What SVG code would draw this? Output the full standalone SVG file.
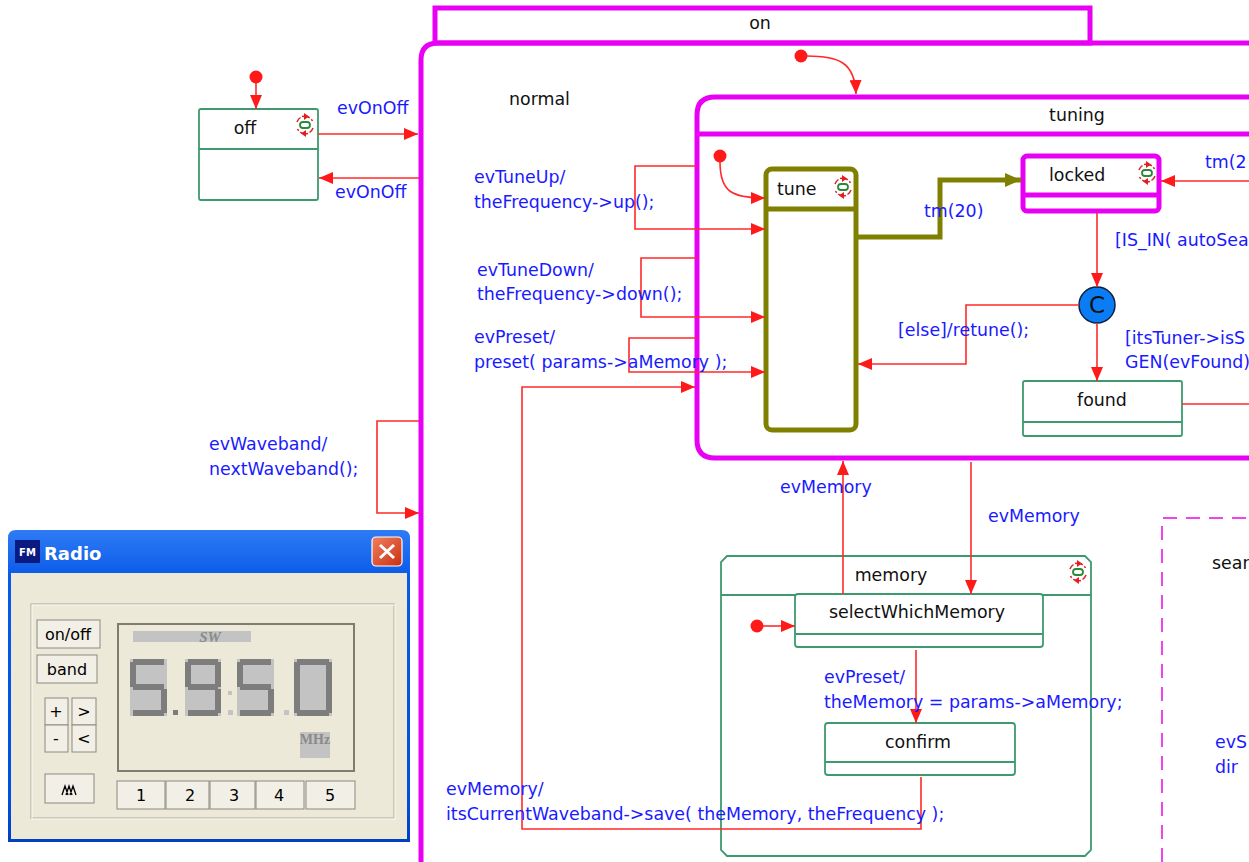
<svg xmlns="http://www.w3.org/2000/svg" width="1249" height="862" viewBox="0 0 1249 862">
  <style>
    .lbl { font-family: "DejaVu Sans", Verdana, sans-serif; font-size: 17.4px; fill: #1a1aff; }
    .name { font-family: "DejaVu Sans", Verdana, sans-serif; font-size: 17.4px; fill: #111; }
    .mid { text-anchor: middle; }
    .tr { fill: none; stroke: #ff2a2a; stroke-width: 1.6; }
    .st { fill: #fff; stroke: #3d9a6e; stroke-width: 1.8; }
    .stl { fill: none; stroke: #3d9a6e; stroke-width: 1.8; }
    .mg { fill: none; stroke: #e800f4; stroke-width: 5; }
    .ol { fill: none; stroke: #808000; stroke-width: 5; }
    .dot { fill: #ff1a1a; }
    .btn { fill: #f1efe6; stroke: #8c8a80; stroke-width: 1; }
    .btxt { font-family: "DejaVu Sans", Verdana, sans-serif; font-size: 16px; fill: #000; text-anchor: middle; }
    .seg { fill: #7d7d7d; }
    .cell { fill: #c3c3c3; }
  </style>
  <defs>
    <marker id="ah" viewBox="0 0 14 12" refX="14" refY="6" markerWidth="14" markerHeight="12" markerUnits="userSpaceOnUse" orient="auto">
      <path d="M0,0 L14,6 L0,12 Z" fill="#ff1a1a"/>
    </marker>
    <marker id="aho" viewBox="0 0 16 14" refX="16" refY="7" markerWidth="16" markerHeight="14" markerUnits="userSpaceOnUse" orient="auto">
      <path d="M0,0 L16,7 L0,14 Z" fill="#808000"/>
    </marker>
    <!-- reactive-state icon: dashed circular arrows round a small capsule -->
    <symbol id="ico" viewBox="-12 -12 24 24" overflow="visible">
      <path d="M-3,-8.5 A9,9 0 0 1 7.5,-4" fill="none" stroke="#e02020" stroke-width="1.5" stroke-dasharray="3,2"/>
      <path d="M3,8.5 A9,9 0 0 1 -7.5,4" fill="none" stroke="#e02020" stroke-width="1.5" stroke-dasharray="3,2"/>
      <path d="M-8,-3 A9,9 0 0 1 -4.5,-7.5" fill="none" stroke="#e02020" stroke-width="1.5"/>
      <path d="M8,3 A9,9 0 0 1 4.5,7.5" fill="none" stroke="#e02020" stroke-width="1.5"/>
      <path d="M-1,-12 L4,-8.5 L-1,-5 Z" fill="#e02020"/>
      <path d="M1,12 L-4,8.5 L1,5 Z" fill="#e02020"/>
      <rect x="-5" y="-3" width="10" height="6" rx="3" fill="none" stroke="#2a8a3a" stroke-width="1.8"/>
    </symbol>
  </defs>

  <rect width="1249" height="862" fill="#fff"/>

  <!-- on (composite, partly off-canvas) -->
  <g id="on">
    <rect x="435" y="8" width="655" height="35" class="mg"/>
    <text x="760" y="29" class="name mid">on</text>
    <path d="M421,870 L421,60 Q421,43 438,43 L1260,43" class="mg"/>
    <text x="509" y="105" class="name">normal</text>
  </g>

  <!-- tuning -->
  <g id="tuning">
    <path d="M1260,97 L715,97 Q697,97 697,115 L697,440 Q697,458 715,458 L1260,458" class="mg"/>
    <line x1="697" y1="134" x2="1260" y2="134" class="mg"/>
    <text x="1077" y="121" class="name mid">tuning</text>
  </g>

  <g id="tune">
    <rect x="766" y="169" width="90" height="261" rx="6" class="ol"/>
    <line x1="766" y1="209" x2="858" y2="209" class="ol"/>
    <text x="777" y="195" class="name">tune</text>
    <use href="#ico" x="831" y="175" width="24" height="24"/>
  </g>

  <g id="locked">
    <rect x="1023" y="156" width="136" height="55" rx="4" class="mg"/>
    <line x1="1023" y1="195" x2="1161" y2="195" class="mg"/>
    <text x="1049" y="181" class="name">locked</text>
    <use href="#ico" x="1135" y="161" width="24" height="24"/>
  </g>

  <g id="cond">
    <circle cx="1097" cy="305" r="18" fill="#0a7cf4" stroke="#102040" stroke-width="1.5"/>
    <text x="1097" y="313" font-family="DejaVu Sans, sans-serif" font-size="23" fill="#111" text-anchor="middle">C</text>
  </g>

  <g id="found">
    <rect x="1023" y="381" width="159" height="55" rx="2" class="st"/>
    <line x1="1023" y1="422" x2="1182" y2="422" class="stl"/>
    <text x="1102" y="406" class="name mid">found</text>
  </g>

  <g id="off">
    <rect x="199" y="109" width="119" height="91" rx="2" class="st"/>
    <line x1="199" y1="149" x2="318" y2="149" class="stl"/>
    <text x="245" y="134" class="name mid">off</text>
    <use href="#ico" x="293" y="113" width="24" height="24"/>
  </g>

  <g id="memory">
    <path d="M727,556 L1085,556 L1091,562 L1091,850 L1085,856 L727,856 L721,850 L721,562 Z" class="stl"/>
    <line x1="721" y1="595" x2="1091" y2="595" class="stl"/>
    <text x="891" y="581" class="name mid">memory</text>
    <use href="#ico" x="1066" y="560" width="24" height="24"/>
  </g>

  <g id="selectWhichMemory">
    <rect x="795" y="594" width="248" height="53" rx="3" class="st"/>
    <line x1="795" y1="634" x2="1043" y2="634" class="stl"/>
    <text x="917" y="618" class="name mid">selectWhichMemory</text>
  </g>

  <g id="confirm">
    <rect x="825" y="723" width="190" height="52" rx="3" class="st"/>
    <line x1="825" y1="762" x2="1015" y2="762" class="stl"/>
    <text x="918" y="748" class="name mid">confirm</text>
  </g>

  <g id="searching">
    <path d="M1162,862 L1162,518 L1249,518" fill="none" stroke="#ee44ee" stroke-width="2" stroke-dasharray="14,9"/>
    <text x="1212" y="569" class="name">sear</text>
  </g>

  <!-- transitions -->
  <g id="connectors">
    <circle cx="256" cy="77" r="6.5" class="dot"/>
    <line x1="256" y1="83" x2="256" y2="109" class="tr" marker-end="url(#ah)"/>

    <line x1="318" y1="134" x2="418" y2="134" class="tr" marker-end="url(#ah)"/>
    <line x1="419" y1="178" x2="319" y2="178" class="tr" marker-end="url(#ah)"/>

    <circle cx="801" cy="56" r="6.5" class="dot"/>
    <path d="M807,56 C838,56 855,62 856,94" class="tr" marker-end="url(#ah)"/>

    <circle cx="720" cy="156" r="6.5" class="dot"/>
    <path d="M720,162 C720,192 732,198 765,198" class="tr" marker-end="url(#ah)"/>

    <path d="M697,166 L635,166 L635,229 L765,229" class="tr" marker-end="url(#ah)"/>
    <path d="M697,258 L641,258 L641,317 L765,317" class="tr" marker-end="url(#ah)"/>
    <path d="M697,338 L629,338 L629,372 L765,372" class="tr" marker-end="url(#ah)"/>

    <path d="M419,421 L377,421 L377,513 L419,513" class="tr" marker-end="url(#ah)"/>

    <path d="M858,237 L940,237 L940,180 L1021,180" fill="none" stroke="#808000" stroke-width="5" marker-end="url(#aho)"/>

    <line x1="1249" y1="181" x2="1161" y2="181" class="tr" marker-end="url(#ah)"/>
    <line x1="1097" y1="213" x2="1097" y2="287" class="tr" marker-end="url(#ah)"/>
    <path d="M1079,305 L966,305 L966,364 L858,364" class="tr" marker-end="url(#ah)"/>
    <line x1="1097" y1="323" x2="1097" y2="381" class="tr" marker-end="url(#ah)"/>
    <line x1="1182" y1="404" x2="1249" y2="404" class="tr"/>

    <line x1="843" y1="594" x2="843" y2="461" class="tr" marker-end="url(#ah)"/>
    <line x1="971" y1="462" x2="971" y2="594" class="tr" marker-end="url(#ah)"/>

    <circle cx="757" cy="626" r="6.5" class="dot"/>
    <line x1="763" y1="626" x2="795" y2="626" class="tr" marker-end="url(#ah)"/>

    <line x1="916" y1="650" x2="916" y2="723" class="tr" marker-end="url(#ah)"/>

    <path d="M921,777 L921,829 L522,829 L522,387 L695,387" class="tr" marker-end="url(#ah)"/>
  </g>

  <!-- transition labels -->
  <g id="labels">
    <text x="337" y="114" class="lbl">evOnOff</text>
    <text x="335" y="198" class="lbl">evOnOff</text>
    <text x="474" y="183" class="lbl">evTuneUp/</text>
    <text x="474" y="208" class="lbl">theFrequency-&gt;up();</text>
    <text x="477" y="276" class="lbl">evTuneDown/</text>
    <text x="477" y="300" class="lbl">theFrequency-&gt;down();</text>
    <text x="474" y="343" class="lbl">evPreset/</text>
    <text x="474" y="368" class="lbl">preset( params-&gt;aMemory );</text>
    <text x="209" y="450" class="lbl">evWaveband/</text>
    <text x="209" y="475" class="lbl">nextWaveband();</text>
    <text x="924" y="217" class="lbl">tm(20)</text>
    <text x="1205" y="168" class="lbl">tm(2</text>
    <text x="1115" y="246" class="lbl">[IS_IN( autoSea</text>
    <text x="898" y="336" class="lbl">[else]/retune();</text>
    <text x="1125" y="344" class="lbl">[itsTuner-&gt;isS</text>
    <text x="1125" y="368" class="lbl">GEN(evFound)</text>
    <text x="780" y="493" class="lbl">evMemory</text>
    <text x="988" y="522" class="lbl">evMemory</text>
    <text x="824" y="683" class="lbl">evPreset/</text>
    <text x="824" y="708" class="lbl">theMemory = params-&gt;aMemory;</text>
    <text x="446" y="795" class="lbl">evMemory/</text>
    <text x="446" y="820" class="lbl">itsCurrentWaveband-&gt;save( theMemory, theFrequency );</text>
    <text x="1215" y="748" class="lbl">evS</text>
    <text x="1215" y="773" class="lbl">dir</text>
  </g>

  <!-- Radio front panel window -->
  <g id="radio">
    <defs>
      <linearGradient id="tb" x1="0" y1="0" x2="0" y2="1">
        <stop offset="0" stop-color="#2f7bf5"/>
        <stop offset="0.15" stop-color="#0a5ae8"/>
        <stop offset="0.85" stop-color="#0050e0"/>
        <stop offset="1" stop-color="#0040c0"/>
      </linearGradient>
      <linearGradient id="cb" x1="0" y1="0" x2="1" y2="1">
        <stop offset="0" stop-color="#f08060"/>
        <stop offset="1" stop-color="#c83010"/>
      </linearGradient>
    </defs>
    <path d="M8,842 L8,538 Q8,530 16,530 L402,530 Q410,530 410,538 L410,842 Z" fill="url(#tb)"/>
    <rect x="11" y="573" width="396" height="266" fill="#ece9d8"/>
    <rect x="15" y="540" width="25" height="23" fill="#0a1a80"/>
    <text x="27.5" y="556" font-family="DejaVu Sans, sans-serif" font-size="10" font-weight="bold" fill="#fff" text-anchor="middle">FM</text>
    <text x="44" y="560" font-family="DejaVu Sans, sans-serif" font-size="18" font-weight="bold" fill="#fff">Radio</text>
    <rect x="372" y="537" width="30" height="29" rx="4" fill="url(#cb)" stroke="#fff" stroke-width="1.2"/>
    <path d="M380,545 L394,558 M394,545 L380,558" stroke="#fff" stroke-width="3"/>

    <rect x="31" y="604" width="363" height="214" fill="none" stroke="#aca899" stroke-width="1"/>
    <rect x="32" y="605" width="363" height="214" fill="none" stroke="#fff" stroke-width="1" opacity="0.8"/>

    <rect x="37" y="620" width="63" height="28" class="btn"/>
    <text x="68" y="640" class="btxt">on/off</text>
    <rect x="37" y="655" width="60" height="28" class="btn" stroke="#000" stroke-width="2"/>
    <text x="67" y="675" class="btxt">band</text>
    <rect x="45" y="698" width="23" height="27" class="btn"/>
    <text x="56" y="717" class="btxt" font-size="13">+</text>
    <rect x="72" y="698" width="24" height="27" class="btn"/>
    <text x="84" y="717" class="btxt" font-size="12">&gt;</text>
    <rect x="45" y="725" width="23" height="27" class="btn"/>
    <text x="56" y="744" class="btxt" font-size="13">-</text>
    <rect x="72" y="725" width="24" height="27" class="btn"/>
    <text x="84" y="744" class="btxt" font-size="12">&lt;</text>
    <rect x="45" y="774" width="49" height="29" class="btn"/>
    <path d="M62,795 L65,786 L68,795 M66,795 L69,786 L72,795 M70,795 L73,786 L76,795" fill="none" stroke="#000" stroke-width="1.3"/>

    <rect x="118" y="624" width="236" height="147" fill="#ece9d8" stroke="#807d70" stroke-width="2"/>
    <rect x="133" y="631" width="118" height="11" fill="#c3c3c3"/>
    <text x="210" y="642" font-family="Liberation Serif, serif" font-size="15" font-style="italic" font-weight="bold" fill="#8a8a8a" text-anchor="middle">SW</text>

    <!-- seven-segment digits 5 9 5 0 -->
    <rect x="130" y="659" width="37" height="57" class="cell"/>
    <g class="seg">
      <rect x="133" y="659" width="31" height="6"/><rect x="130" y="662" width="6" height="25"/>
      <rect x="133" y="684" width="31" height="6"/><rect x="161" y="689" width="6" height="24"/>
      <rect x="133" y="710" width="31" height="6"/>
    </g>
    <rect x="173" y="710" width="5" height="5" class="seg"/>
    <rect x="185" y="659" width="36" height="57" class="cell"/>
    <g class="seg">
      <rect x="188" y="659" width="30" height="6"/><rect x="185" y="662" width="6" height="25"/>
      <rect x="215" y="662" width="6" height="25"/><rect x="188" y="684" width="30" height="6"/>
      <rect x="215" y="689" width="6" height="24"/><rect x="188" y="710" width="30" height="6"/>
    </g>
    <rect x="228" y="691" width="4" height="4" class="cell"/>
    <rect x="228" y="710" width="5" height="5" class="cell"/>
    <rect x="237" y="659" width="37" height="57" class="cell"/>
    <g class="seg">
      <rect x="240" y="659" width="31" height="6"/><rect x="237" y="662" width="6" height="25"/>
      <rect x="240" y="684" width="31" height="6"/><rect x="268" y="689" width="6" height="24"/>
      <rect x="240" y="710" width="31" height="6"/>
    </g>
    <rect x="284" y="710" width="5" height="5" class="cell"/>
    <rect x="294" y="659" width="38" height="57" class="cell"/>
    <g class="seg">
      <rect x="297" y="659" width="32" height="6"/><rect x="294" y="662" width="6" height="51"/>
      <rect x="326" y="662" width="6" height="51"/><rect x="297" y="710" width="32" height="6"/>
    </g>
    <rect x="300" y="732" width="30" height="26" fill="#c3c3c3"/>
    <text x="315" y="744" font-family="Liberation Serif, serif" font-size="14" font-weight="bold" fill="#8a8a8a" text-anchor="middle">MHz</text>

    <rect x="117" y="781" width="48" height="28" class="btn"/>
    <text x="141" y="801" class="btxt">1</text>
    <rect x="166" y="781" width="43" height="28" class="btn"/>
    <text x="190" y="801" class="btxt">2</text>
    <rect x="210" y="781" width="45" height="28" class="btn"/>
    <text x="234" y="801" class="btxt">3</text>
    <rect x="256" y="781" width="48" height="28" class="btn"/>
    <text x="279" y="801" class="btxt">4</text>
    <rect x="306" y="781" width="49" height="28" class="btn"/>
    <text x="330" y="801" class="btxt">5</text>
  </g>
</svg>
